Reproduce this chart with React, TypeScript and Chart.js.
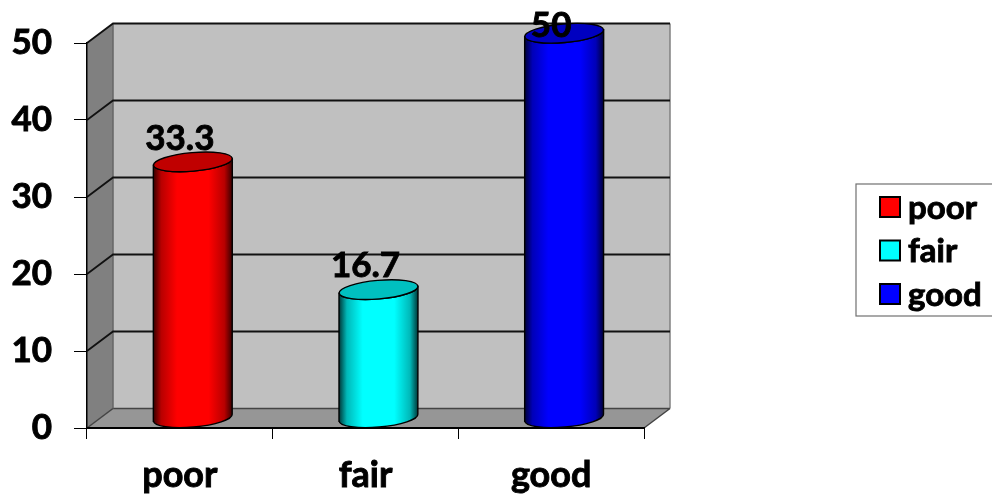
import React, { useEffect, useRef } from "react";
import { Chart, registerables } from "chart.js";

Chart.register(...registerables);

const categories = ["poor", "fair", "good"];
const values = [33.3, 16.7, 50];
const colors = ["#ff0000", "#00ffff", "#0000ff"];
const edgeColors = ["#380000", "#003838", "#000038"];
const midColors = ["#b80000", "#00b8b8", "#0000b8"];
const topColors = ["#c00000", "#00c0c0", "#0000c0"];
const yTicks = [0, 10, 20, 30, 40, 50];

const DX = 26;
const DY = 19.5;
const FONT = "Lato, Carlito, sans-serif";

const scene = {
  id: "scene",
  beforeDraw(chart: any) {
    const { ctx, chartArea: a, scales } = chart;
    const y = scales.y;
    ctx.save();
    // back wall
    ctx.fillStyle = "#c0c0c0";
    ctx.fillRect(a.left + DX, a.top - DY, a.right - a.left, a.bottom - a.top);
    // left wall
    ctx.fillStyle = "#808080";
    ctx.beginPath();
    ctx.moveTo(a.left, a.bottom);
    ctx.lineTo(a.left, a.top);
    ctx.lineTo(a.left + DX, a.top - DY);
    ctx.lineTo(a.left + DX, a.bottom - DY);
    ctx.closePath();
    ctx.fill();
    // floor
    ctx.fillStyle = "#969696";
    ctx.beginPath();
    ctx.moveTo(a.left, a.bottom);
    ctx.lineTo(a.right, a.bottom);
    ctx.lineTo(a.right + DX, a.bottom - DY);
    ctx.lineTo(a.left + DX, a.bottom - DY);
    ctx.closePath();
    ctx.fill();
    // wall outlines
    ctx.strokeStyle = "#808080";
    ctx.lineWidth = 1.5;
    ctx.beginPath();
    ctx.moveTo(a.right + DX, a.top - DY);
    ctx.lineTo(a.right + DX, a.bottom - DY);
    ctx.stroke();
    ctx.strokeStyle = "#444444";
    ctx.beginPath();
    ctx.moveTo(a.right, a.bottom);
    ctx.lineTo(a.right + DX, a.bottom - DY);
    ctx.moveTo(a.left, a.bottom);
    ctx.lineTo(a.left + DX, a.bottom - DY);
    ctx.lineTo(a.right + DX, a.bottom - DY);
    ctx.stroke();
    ctx.strokeStyle = "#666666";
    ctx.beginPath();
    ctx.moveTo(a.left + DX, a.bottom - DY);
    ctx.lineTo(a.left + DX, a.top - DY);
    ctx.stroke();
    // grid lines on side and back wall
    ctx.strokeStyle = "#111111";
    ctx.lineWidth = 1.8;
    yTicks.slice(1).forEach((v) => {
      const p = y.getPixelForValue(v);
      ctx.beginPath();
      ctx.moveTo(a.left, p);
      ctx.lineTo(a.left + DX, p - DY);
      ctx.lineTo(a.right + DX, p - DY);
      ctx.stroke();
    });
    ctx.restore();
  },
};

const cylinders = {
  id: "cylinders",
  beforeDatasetDraw(chart: any, args: any) {
    const { ctx } = chart;
    const meta = args.meta;
    ctx.save();
    meta.data.forEach((bar: any, i: number) => {
      const half = bar.width / 2;
      const cx = bar.x + DX / 2;
      const topY = bar.y - DY / 2;
      const baseY = bar.base - DY / 2;
      const ry = 9.3;
      const tilt = (-5 * Math.PI) / 180;
      const g = ctx.createLinearGradient(cx - half, 0, cx + half, 0);
      g.addColorStop(0, edgeColors[i]);
      g.addColorStop(0.1, midColors[i]);
      g.addColorStop(0.3, colors[i]);
      g.addColorStop(0.7, colors[i]);
      g.addColorStop(0.9, midColors[i]);
      g.addColorStop(1, edgeColors[i]);
      const sin = Math.sin(tilt) * half;
      ctx.beginPath();
      ctx.moveTo(cx - half, topY - sin);
      ctx.lineTo(cx - half, baseY - sin);
      ctx.ellipse(cx, baseY, half, ry, tilt, Math.PI, 0, true);
      ctx.lineTo(cx + half, topY + sin);
      ctx.ellipse(cx, topY, half, ry, tilt, 0, Math.PI, false);
      ctx.closePath();
      ctx.fillStyle = g;
      ctx.fill();
      ctx.strokeStyle = "#000000";
      ctx.lineWidth = 1.4;
      ctx.stroke();
      ctx.beginPath();
      ctx.ellipse(cx, topY, half, ry, tilt, 0, Math.PI * 2);
      ctx.fillStyle = topColors[i];
      ctx.fill();
      ctx.stroke();
    });
    ctx.restore();
    return false;
  },
  afterDatasetsDraw(chart: any) {
    const { ctx } = chart;
    const meta = chart.getDatasetMeta(0);
    ctx.save();
    ctx.font = `bold 35px ${FONT}`;
    ctx.fillStyle = "#000000";
    ctx.strokeStyle = "#000000";
    ctx.lineWidth = 0.9;
    ctx.textAlign = "center";
    ctx.textBaseline = "alphabetic";
    meta.data.forEach((bar: any, i: number) => {
      const py = Math.max(bar.y - 22, 37);
      ctx.fillText(String(values[i]), bar.x, py);
      ctx.strokeText(String(values[i]), bar.x, py);
    });
    ctx.restore();
  },
};

const legendBox = {
  id: "legendBox",
  afterDraw(chart: any) {
    const { ctx } = chart;
    ctx.save();
    ctx.fillStyle = "#ffffff";
    ctx.strokeStyle = "#707070";
    ctx.lineWidth = 1.2;
    ctx.fillRect(856, 184, 140, 132);
    ctx.strokeRect(856, 184, 140, 132);
    ctx.font = `bold 33px ${FONT}`;
    ctx.textBaseline = "middle";
    ctx.textAlign = "left";
    categories.forEach((c, i) => {
      const cy = 207 + i * 43.5;
      ctx.fillStyle = colors[i];
      ctx.strokeStyle = "#000000";
      ctx.lineWidth = 2;
      ctx.fillRect(880, cy - 10, 20, 20);
      ctx.strokeRect(880, cy - 10, 20, 20);
      ctx.fillStyle = "#000000";
      ctx.fillText(c, 908, cy + 1);
      ctx.lineWidth = 0.9;
      ctx.strokeText(c, 908, cy + 1);
    });
    ctx.restore();
  },
};

export default function App() {
  const ref = useRef<HTMLCanvasElement>(null);
  useEffect(() => {
    const chart = new Chart(ref.current as HTMLCanvasElement, {
      type: "bar",
      data: {
        labels: categories,
        datasets: [{ data: values, backgroundColor: colors, barThickness: 79 }],
      },
      options: {
        responsive: false,
        animation: false,
        layout: { padding: { left: 0, right: 348, top: 42, bottom: 0 } },
        plugins: { legend: { display: false }, tooltip: { enabled: false } },
        scales: {
          x: {
            grid: { drawOnChartArea: false, drawTicks: true, tickLength: 11, color: "#000000", lineWidth: 1 },
            border: { color: "#000000", width: 2 },
            ticks: {
              color: "#000000",
              padding: 15,
              maxRotation: 0,
              textStrokeColor: "#000000",
              textStrokeWidth: 0.9,
              font: { family: FONT, weight: "bold", size: 36 },
            },
            afterFit(s: any) {
              s.height = 66;
            },
          },
          y: {
            min: 0,
            max: 50,
            afterBuildTicks(s: any) {
              s.ticks = yTicks.map((value) => ({ value }));
            },
            grid: { drawOnChartArea: false, drawTicks: true, tickLength: 13, color: "#000000", lineWidth: 1 },
            border: { color: "#000000", width: 1.5 },
            ticks: {
              color: "#000000",
              padding: 22,
              textStrokeColor: "#000000",
              textStrokeWidth: 0.9,
              font: { family: FONT, weight: "bold", size: 35 },
            },
            afterFit(s: any) {
              s.width = 87;
            },
          },
        },
      },
      plugins: [scene, cylinders, legendBox],
    } as any);
    return () => chart.destroy();
  }, []);
  return (
    <div style={{ position: "absolute", left: 0, top: 0, width: 992, height: 494, overflow: "hidden" }}>
      <canvas ref={ref} width={992} height={494} style={{ display: "block" }} />
    </div>
  );
}
